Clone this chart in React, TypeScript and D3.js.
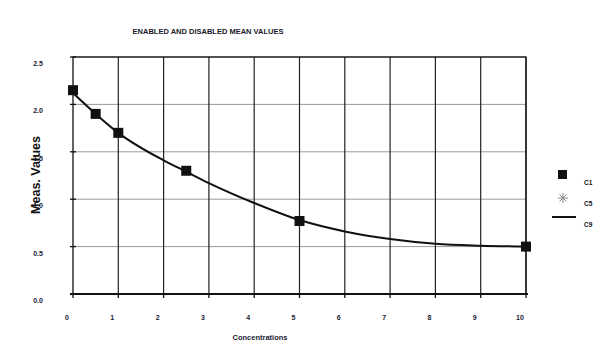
import * as d3 from "d3";

const xTicks = [0, 1, 2, 3, 4, 5, 6, 7, 8, 9, 10];
const yTicks = [0, 0.5, 1.0, 1.5, 2.0, 2.5];
const yTickLabels = ["0.0", "0.5", "1.0", "1.5", "2.0", "2.5"];

// C1 measured means
const c1X = [0, 0.5, 1, 2.5, 5, 10];
const c1Y = [2.15, 1.9, 1.7, 1.3, 0.77, 0.5];

// C9 fitted curve
const c9X = [0, 0.5, 1, 2, 2.5, 3, 4, 5, 6, 7, 8, 9, 10];
const c9Y = [2.12, 1.9, 1.7, 1.41, 1.29, 1.17, 0.96, 0.78, 0.66, 0.58, 0.53, 0.51, 0.5];

const legendItems = ["C1", "C5", "C9"];

const W = 600;
const H = 354;
const left = 73;
const right = 526;
const top = 57;
const bottom = 294;
const font = "Liberation Sans, Arial, sans-serif";
const labelColor = "#1a1a33";

export default function App() {
  const x = d3.scaleLinear().domain([0, 10]).range([left, right]);
  const y = d3.scaleLinear().domain([0, 2.5]).range([bottom, top]);

  const line = d3
    .line<number>()
    .x((_, i) => x(c9X[i]))
    .y((d) => y(d))
    .curve(d3.curveMonotoneX);

  const asterisk = (cx: number, cy: number, r: number) =>
    [0, 45, 90, 135].map((a) => {
      const rad = (a * Math.PI) / 180;
      return (
        <line
          key={a}
          x1={cx - r * Math.cos(rad)}
          y1={cy - r * Math.sin(rad)}
          x2={cx + r * Math.cos(rad)}
          y2={cy + r * Math.sin(rad)}
          stroke="#888"
          strokeWidth={1}
        />
      );
    });

  return (
    <svg
      width={W}
      height={H}
      style={{ position: "absolute", left: 0, top: 0, background: "#fff" }}
      fontFamily={font}
    >
      <rect width={W} height={H} fill="#fff" />
      <text x={208} y={34} textAnchor="middle" fontSize={7.5} fontWeight="bold" fill="#1a1a2a">
        ENABLED AND DISABLED MEAN VALUES
      </text>

      {/* horizontal gridlines */}
      {yTicks.slice(1).map((t) => (
        <line key={t} x1={left} x2={right} y1={y(t)} y2={y(t)} stroke="#9a9a9a" strokeWidth={1} />
      ))}
      {/* vertical gridlines */}
      {xTicks.slice(1).map((t) => (
        <line key={t} x1={x(t)} x2={x(t)} y1={top} y2={bottom} stroke="#222" strokeWidth={1.2} />
      ))}
      {/* frame */}
      <rect x={left} y={top} width={right - left} height={bottom - top} fill="none" stroke="#111" strokeWidth={1.3} />
      <line x1={left - 3} x2={right + 2} y1={bottom} y2={bottom} stroke="#111" strokeWidth={2} />

      {/* y ticks */}
      {yTicks.map((t, i) => (
        <g key={t}>
          <line x1={left - 3} x2={left + 3} y1={y(t)} y2={y(t)} stroke="#111" strokeWidth={1.3} />
          <text x={38} y={y(t) + 9} textAnchor="middle" fontSize={7} fontWeight="bold" fill={labelColor}>
            {yTickLabels[i]}
          </text>
        </g>
      ))}
      {/* x ticks */}
      {xTicks.map((t) => (
        <g key={t}>
          <line x1={x(t)} x2={x(t)} y1={bottom} y2={bottom + 4} stroke="#111" strokeWidth={1.3} />
          <text x={x(t) - 6} y={320} textAnchor="middle" fontSize={7} fontWeight="bold" fill={labelColor}>
            {t}
          </text>
        </g>
      ))}

      <text x={260} y={340} textAnchor="middle" fontSize={7.5} fontWeight="bold" fill={labelColor}>
        Concentrations
      </text>
      <text
        transform={`translate(40,175) rotate(-90)`}
        textAnchor="middle"
        fontSize={12.5}
        fontWeight="bold"
        fill="#111"
      >
        Meas. Values
      </text>

      {/* C9 curve */}
      <path d={line(c9Y) ?? ""} fill="none" stroke="#111" strokeWidth={2} />

      {/* C1 markers */}
      {c1X.map((v, i) => (
        <rect key={i} x={x(v) - 5} y={y(c1Y[i]) - 5} width={10} height={10} fill="#111" />
      ))}

      {/* legend */}
      <rect x={558} y={170} width={9} height={9} fill="#111" />
      <text x={584} y={185} fontSize={6.5} fontWeight="bold" fill="#111">{legendItems[0]}</text>
      {asterisk(563, 198, 5)}
      <text x={584} y={206} fontSize={6.5} fontWeight="bold" fill="#111">{legendItems[1]}</text>
      <line x1={552} x2={576} y1={217} y2={217} stroke="#111" strokeWidth={2} />
      <text x={584} y={227} fontSize={6.5} fontWeight="bold" fill="#111">{legendItems[2]}</text>
    </svg>
  );
}
